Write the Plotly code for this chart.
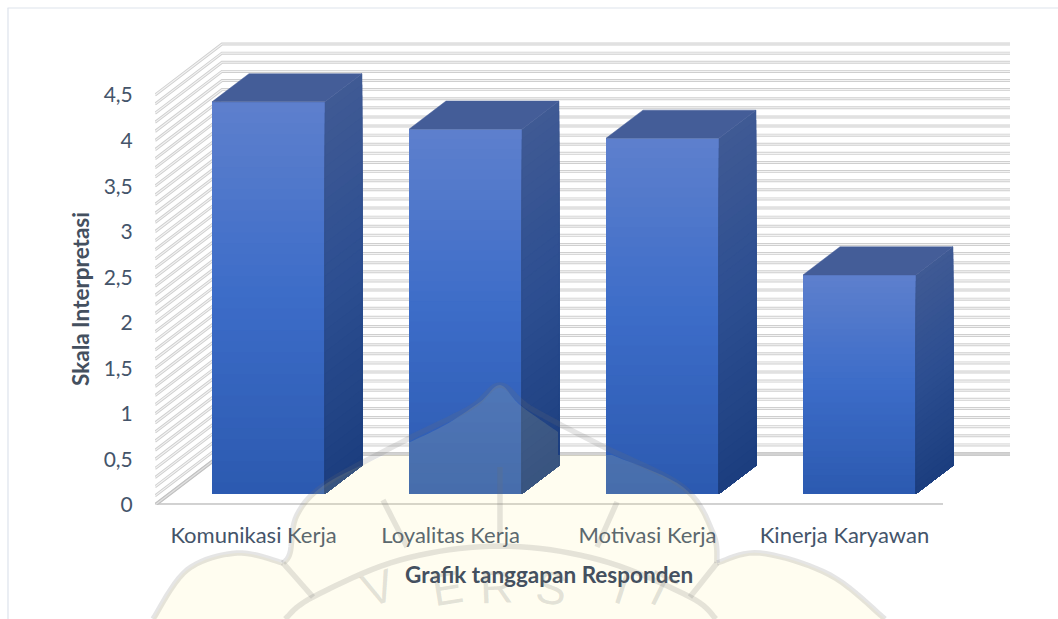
import plotly.graph_objects as go

# ---------- data ----------
categories = ["Komunikasi Kerja", "Loyalitas Kerja", "Motivasi Kerja", "Kinerja Karyawan"]
values = [4.3, 4.0, 3.9, 2.4]
y_ticks = [0, 0.5, 1, 1.5, 2, 2.5, 3, 3.5, 4, 4.5]
y_labels = ["0", "0,5", "1", "1,5", "2", "2,5", "3", "3,5", "4", "4,5"]

# ---------- oblique 3-D projection (axis units per unit of depth) ----------
W, H = 1058, 619
L, R, T, B = 155, 1010, 40, 505
DX, DY = 67 / 197, 51 / 91.1
X_RANGE = [-0.5, -0.5 + (R - L) / 197]
Y_RANGE = [0, (B - T) / 91.1]
BAR_W = 113 / 197
D_FRONT, D_BACK = 0.224, 0.776
N = 36


def proj(x, v, d):
    return x + d * DX, v + d * DY


def mix(a, b, t):
    return "rgb(%d,%d,%d)" % tuple(round(p + (q - p) * t) for p, q in zip(a, b))


def ramp(stops, t):
    if t <= 0.5:
        return mix(stops[0], stops[1], t * 2)
    return mix(stops[1], stops[2], (t - 0.5) * 2)


FRONT = [(94, 128, 205), (60, 108, 200), (44, 90, 176)]
SIDE = [(64, 90, 148), (44, 78, 145), (28, 62, 126)]
TOP = (68, 93, 152)

fig = go.Figure()

# ---------- walls ----------
levels = [k / 10 for k in range(46)]
gx, gy = [], []
for v in levels:
    p0, p1, p2 = proj(-0.5, v, 0), proj(-0.5, v, 1), proj(3.5, v, 1)
    gx += [p0[0], p1[0], p2[0], None]
    gy += [p0[1], p1[1], p2[1], None]
fig.add_trace(go.Scatter(x=gx, y=gy, mode="lines", hoverinfo="skip", showlegend=False,
                         line=dict(color="#cfcfcf", width=3)))
fig.add_trace(go.Scatter(x=gx, y=gy, mode="lines", hoverinfo="skip", showlegend=False,
                         line=dict(color="#f3f3f3", width=1.1)))
# floor edges
p1, p2 = proj(-0.5, 0, 1), proj(3.5, 0, 1)
for xs, ys in (([-0.5, 3.5], [0, 0]), ([-0.5, p1[0], p2[0]], [0, p1[1], p2[1]])):
    fig.add_trace(go.Scatter(x=xs, y=ys, mode="lines", hoverinfo="skip", showlegend=False,
                             line=dict(color="#c2c2c2", width=3.6)))
    fig.add_trace(go.Scatter(x=xs, y=ys, mode="lines", hoverinfo="skip", showlegend=False,
                             line=dict(color="#e2e2e2", width=1.2)))

# ---------- bars (each slice reaches down to the foot, the next one paints over it) ----------
bx = [i + D_FRONT * DX for i in range(len(values))]
base0 = D_FRONT * DY
for k in range(N):
    t = (k + 0.5) / N
    fig.add_trace(go.Bar(
        x=bx, y=[v * (1 - k / N) for v in values],
        base=[base0] * len(values),
        width=BAR_W, xaxis="x2", yaxis="y2", showlegend=False, hoverinfo="skip",
        marker=dict(color=ramp(FRONT, t), line=dict(width=0))))
    sx, sy = [], []
    for i, v in enumerate(values):
        right = i + BAR_W / 2
        hi = v * (1 - k / N)
        for (c, d) in ((0, D_FRONT), (0, D_BACK), (hi, D_BACK), (hi, D_FRONT), (0, D_FRONT)):
            px_, py_ = proj(right, c, d)
            sx.append(px_)
            sy.append(py_)
        sx.append(None)
        sy.append(None)
    col = ramp(SIDE, t)
    fig.add_trace(go.Scatter(x=sx, y=sy, mode="lines", fill="toself", fillcolor=col,
                             line=dict(color=col, width=0.5), xaxis="x2", yaxis="y2",
                             showlegend=False, hoverinfo="skip"))

tx, ty = [], []
for i, v in enumerate(values):
    a, b = i - BAR_W / 2, i + BAR_W / 2
    for (c, d) in ((a, D_FRONT), (a, D_BACK), (b, D_BACK), (b, D_FRONT), (a, D_FRONT)):
        px_, py_ = proj(c, v, d)
        tx.append(px_)
        ty.append(py_)
    tx.append(None)
    ty.append(None)
fig.add_trace(go.Scatter(x=tx, y=ty, mode="lines", fill="toself", fillcolor=mix(TOP, TOP, 0),
                         line=dict(color=mix(TOP, TOP, 0), width=0.5), xaxis="x2", yaxis="y2",
                         showlegend=False, hoverinfo="skip"))


# ---------- watermark and frame (page decoration, given in page pixels) ----------
def px(x):
    return (x - L) / (R - L)


def py(y):
    return 1 - (y - T) / (B - T)


def smooth(points, sub=10):
    pts = list(points)
    out = []
    n = len(pts)
    for i in range(n - 1):
        p0 = pts[max(i - 1, 0)]
        p1, p2 = pts[i], pts[i + 1]
        p3 = pts[min(i + 2, n - 1)]
        for s in range(sub):
            u = s / sub
            q = [0.5 * (2 * p1[j] + (p2[j] - p0[j]) * u + (2 * p0[j] - 5 * p1[j] + 4 * p2[j] - p3[j]) * u ** 2
                        + (3 * p1[j] - p0[j] - 3 * p2[j] + p3[j]) * u ** 3) for j in (0, 1)]
            out.append(q)
    out.append(list(pts[-1]))
    return out


def path(points, close=False):
    s = "M " + " L ".join(f"{px(a):.5f} {py(b):.5f}" for a, b in points)
    return s + (" Z" if close else "")


dome_l = [(385, 455), (327, 483), (297, 515), (290, 553), (283, 563)]
petal_l = [(283, 563), (237, 553), (187, 570), (153, 619)]
dome_r = [(717, 563), (713, 533), (683, 487), (612, 455)]
petal_r = [(885, 619), (830, 575), (760, 553), (717, 563)]
outline = smooth(dome_l) + smooth(petal_l) + smooth(petal_r) + smooth(dome_r)
TINT = "rgba(255,238,140,0.13)"
STROKE = "rgba(110,110,110,0.18)"
shapes = [
    dict(type="path", xref="paper", yref="paper", path=path(outline, True), fillcolor=TINT,
         line=dict(width=0), layer="above"),
    # tint over the second bar, up to the dome's tip
    dict(type="path", xref="paper", yref="paper",
         path=path(smooth([(408, 443), (445, 425), (480, 402), (500, 385), (520, 405), (558, 432)])
                   + [[558, 455], [408, 455]], True),
         fillcolor=TINT, line=dict(width=0), layer="above"),
]
strokes = [
    [(283, 563), (290, 553), (297, 515), (327, 483), (406, 440), (470, 408), (500, 385),
     (530, 408), (600, 445), (683, 487), (713, 533), (717, 563)],
    petal_l,
    petal_r[::-1],
    [(285, 619), (313, 597), (400, 560), (500, 546), (600, 560), (690, 597), (716, 619)],
    [(283, 563), (313, 597)],
    [(717, 563), (690, 597)],
    [(500, 467), (500, 533)],
    [(383, 500), (407, 547)],
    [(617, 502), (597, 547)],
]
for st in strokes:
    shapes.append(dict(type="path", xref="paper", yref="paper", path=path(smooth(st)),
                       line=dict(color=STROKE, width=5.5), layer="above"))
# chart frame
shapes.append(dict(type="line", xref="paper", yref="paper", x0=px(7.5), x1=px(W), y0=py(8), y1=py(8),
                   line=dict(color="#dde3ec", width=1.2), layer="above"))
shapes.append(dict(type="line", xref="paper", yref="paper", x0=px(8), x1=px(8), y0=py(8), y1=py(H),
                   line=dict(color="#dde3ec", width=1.2), layer="above"))

TXT = "#44546a"
annotations = [
    dict(text="Skala Interpretasi", x=px(80), y=py(299), xref="paper", yref="paper", showarrow=False,
         xanchor="center", yanchor="middle", textangle=-90,
         font=dict(family="Lato", size=22.5, color="#44505f", weight="bold")),
    dict(text="Grafik tanggapan Responden", x=px(549), y=py(574), xref="paper", yref="paper", showarrow=False,
         xanchor="center", yanchor="middle",
         font=dict(family="Lato", size=22.5, color="#44505f", weight="bold")),
]
for ch, ax, ay, rot in (("V", 378, 588, -18), ("E", 447, 588, -9), ("R", 496, 587, -2),
                        ("S", 551, 588, 8), ("I", 622, 588, 18), ("T", 660, 590, 26)):
    annotations.append(dict(text=ch, x=px(ax), y=py(ay), xref="paper", yref="paper", showarrow=False,
                            xanchor="center", yanchor="middle", textangle=rot,
                            font=dict(family="Liberation Sans", size=46, color="rgba(110,110,110,0.2)")))

hidden = dict(visible=False, fixedrange=True)
fig.update_layout(
    width=W, height=H, autosize=False,
    paper_bgcolor="white", plot_bgcolor="rgba(0,0,0,0)",
    margin=dict(l=L, r=W - R, t=T, b=H - B, pad=0),
    barmode="overlay", showlegend=False, shapes=shapes, annotations=annotations,
    xaxis=dict(range=X_RANGE, tickmode="array", tickvals=list(range(len(categories))), ticktext=categories,
               showgrid=False, zeroline=False, showline=False, ticks="outside", ticklen=11,
               tickcolor="rgba(0,0,0,0)", tickfont=dict(family="Lato", size=22, color=TXT), tickangle=0,
               fixedrange=True),
    yaxis=dict(range=Y_RANGE, tickmode="array", tickvals=y_ticks, ticktext=y_labels,
               showgrid=False, zeroline=False, showline=False, ticks="outside", ticklen=17,
               tickcolor="rgba(0,0,0,0)", tickfont=dict(family="Lato", size=21, color=TXT), fixedrange=True),
    xaxis2=dict(range=X_RANGE, overlaying="x", anchor="y2", **hidden),
    yaxis2=dict(range=Y_RANGE, overlaying="y", anchor="x2", **hidden),
)
fig.write_html("out.html", config={"displayModeBar": False},
               post_script="document.body.style.margin='0';document.documentElement.style.overflow='hidden';")
